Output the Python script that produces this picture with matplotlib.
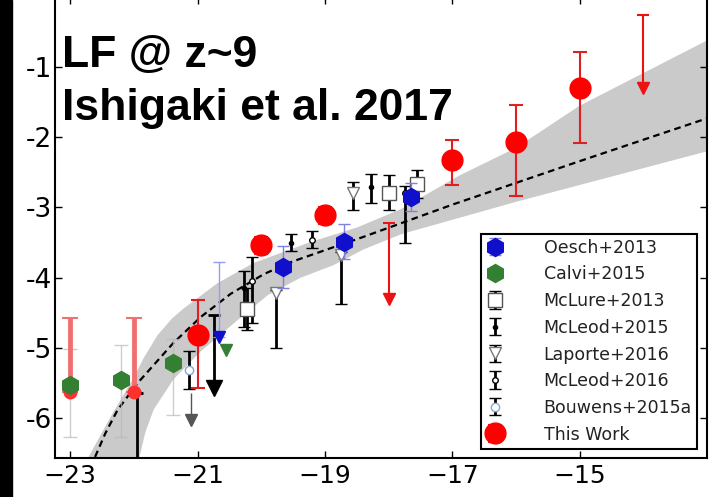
import matplotlib
matplotlib.use("Agg")
import matplotlib.pyplot as plt
from matplotlib.patches import Rectangle

OUT_FILE = "out.png"

# best-fit Schechter curve and its 1-sigma envelope (log phi vs M_UV)
FIT_M = [-22.68, -22.45, -22.26, -21.94, -21.38, -20.95, -20.48, -19.96, -19.54, -18.91, -18.43, -17.0, -15.0, -13.0]
FIT_LOGPHI = [-6.70, -6.22, -5.89, -5.50, -4.93, -4.56, -4.23, -3.95, -3.78, -3.58, -3.43, -2.96, -2.34, -1.73]
BAND_UP_M = [-22.80, -22.37, -22.0, -21.85, -21.63, -21.4, -21.22, -20.69, -20.12, -19.22, -18.48, -17.8, -16.9, -16.0, -15.0, -13.0]
BAND_UP_LOGPHI = [-6.70, -5.99, -5.42, -5.15, -4.82, -4.58, -4.44, -4.08, -3.79, -3.49, -3.28, -3.02, -2.55, -2.15, -1.55, -0.62]
BAND_LO_M = [-21.95, -21.82, -21.69, -21.38, -20.95, -20.43, -19.9, -19.38, -18.86, -18.4, -17.8, -16.0, -13.0]
BAND_LO_LOGPHI = [-6.70, -6.20, -5.88, -5.45, -5.05, -4.65, -4.25, -4.00, -3.82, -3.60, -3.38, -2.92, -2.20]

# this work
THIS_M = [-21.0, -20.0, -19.0, -17.0, -16.0, -15.0]
THIS_LOGPHI = [-4.82, -3.54, -3.11, -2.32, -2.07, -1.30]
THIS_ERR_LO = [0.75, 0.12, 0.12, 0.36, 0.77, 0.78]
THIS_ERR_HI = [0.50, 0.12, 0.12, 0.28, 0.53, 0.51]
THIS_LIM_M = [-18.0, -14.0]
THIS_LIM_TOP = [-3.22, -0.26]
THIS_LIM_TIP = [-4.30, -1.30]
THIS_BRIGHT_M = [-23.0, -22.0]
THIS_BRIGHT_LOGPHI = [-5.63, -5.63]
THIS_BRIGHT_ERR_HI = [1.05, 1.05]

# Oesch+2013
OESCH_M = [-19.66, -18.70, -17.65]
OESCH_LOGPHI = [-3.85, -3.49, -2.85]
OESCH_ERR = [0.30, 0.25, 0.20]
OESCH_LIM_M = [-20.67]
OESCH_LIM_LOGPHI = [-4.85]
OESCH_LIM_TOP = [-3.78]

# Calvi+2015
CALVI_M = [-23.0, -22.2, -21.38]
CALVI_LOGPHI = [-5.53, -5.46, -5.22]
CALVI_ERR_LO = [0.74, 0.81, 0.74]
CALVI_ERR_HI = [0.51, 0.50, 0.35]
CALVI_LIM_M = [-20.56]
CALVI_LIM_LOGPHI = [-5.03]

# McLure+2013
MCLURE_M = [-20.22, -18.0, -17.55]
MCLURE_LOGPHI = [-4.45, -2.79, -2.66]
MCLURE_ERR = [0.30, 0.25, 0.20]

# McLeod+2015
MCLEOD15_M = [-20.27, -19.54, -18.28]
MCLEOD15_LOGPHI = [-4.15, -3.50, -2.71]
MCLEOD15_ERR_LO = [0.55, 0.12, 0.22]
MCLEOD15_ERR_HI = [0.25, 0.12, 0.18]
MCLEOD15_LIM_M = [-21.95, -20.75]
MCLEOD15_LIM_TOP = [-5.65, -4.53]
MCLEOD15_LIM_TIP = [-6.90, -5.57]

# Laporte+2016
LAPORTE_M = [-19.77, -18.75, -18.56]
LAPORTE_LOGPHI = [-4.22, -3.68, -2.79]
LAPORTE_ERR_LO = [0.78, 0.70, 0.25]
LAPORTE_ERR_HI = [0.05, 0.05, 0.15]

# McLeod+2016
MCLEOD16_M = [-20.15, -19.2, -17.75]
MCLEOD16_LOGPHI = [-4.05, -3.46, -2.80]
MCLEOD16_ERR_LO = [0.60, 0.12, 0.70]
MCLEOD16_ERR_HI = [0.35, 0.12, 0.10]

# Bouwens+2015a
BOUWENS_M = [-21.14]
BOUWENS_LOGPHI = [-5.32]
BOUWENS_ERR = [0.27]
BOUWENS_LIM_M = [-21.1]
BOUWENS_LIM_TOP = [-5.64]
BOUWENS_LIM_TIP = [-6.03]

X_TICKS = [-23, -21, -19, -17, -15]
Y_TICKS = [-6, -5, -4, -3, -2, -1]
Y_TICK_LABELS = ["-6", "-5", "-4", "-3", "-2", "-1"]


def upper_limits(ax, m, top, tip, color, lw=1.5, ms=9, cap=True):
    ax.vlines(m, tip, top, color=color, lw=lw, zorder=3)
    ax.plot(m, tip, "v", color=color, ms=ms, mec=color, zorder=3)
    if cap:
        ax.plot(m, top, "_", color=color, ms=9, mew=lw, zorder=3)


def plot_lf():
    fig = plt.figure(figsize=(7.17, 4.97), dpi=100)
    ax = fig.add_axes([0.0767, 0.0785, 0.9093, 0.9276])

    # confidence band and best fit
    band_m = BAND_UP_M + BAND_LO_M[::-1]
    band_y = BAND_UP_LOGPHI + BAND_LO_LOGPHI[::-1]
    ax.fill(band_m, band_y, color="#cacaca", lw=0, zorder=1)
    ax.plot(FIT_M, FIT_LOGPHI, ls=(0, (3, 2)), color="black", lw=1.6, zorder=2)

    # Calvi+2015
    ax.errorbar(CALVI_M, CALVI_LOGPHI, yerr=[CALVI_ERR_LO, CALVI_ERR_HI], fmt="none",
                ecolor="#b8b8b8", elinewidth=1, capsize=5, alpha=0.7, zorder=3)
    ax.plot(CALVI_LIM_M, CALVI_LIM_LOGPHI, "v", color="#338033", ms=9, zorder=4)

    # bright end of this work
    ax.errorbar(THIS_BRIGHT_M, THIS_BRIGHT_LOGPHI, yerr=[[0, 0], THIS_BRIGHT_ERR_HI], fmt="o",
                color="#ff3030", ms=9, ecolor="#f07070", elinewidth=3.5, capsize=6, capthick=1.5,
                zorder=3)

    ax.errorbar(CALVI_M, CALVI_LOGPHI, fmt="h", color="#338033", ms=13, zorder=5,
                label="Calvi+2015")

    # Oesch+2013
    ax.errorbar(OESCH_LIM_M, OESCH_LIM_LOGPHI, yerr=[[0], [OESCH_LIM_TOP[0] - OESCH_LIM_LOGPHI[0]]],
                fmt="v", color="#1010cc", ms=9, ecolor="#9999ee", elinewidth=1, capsize=4, zorder=4)

    # McLeod+2015 upper limits
    upper_limits(ax, MCLEOD15_LIM_M, MCLEOD15_LIM_TOP, MCLEOD15_LIM_TIP, "black", lw=2, ms=11)
    upper_limits(ax, BOUWENS_LIM_M, BOUWENS_LIM_TOP, BOUWENS_LIM_TIP, "#555555", lw=1, ms=9,
                 cap=False)

    ax.errorbar(MCLURE_M, MCLURE_LOGPHI, yerr=MCLURE_ERR, fmt="s", mfc="white", mec="#555555",
                ms=10, ecolor="black", elinewidth=2, capsize=4, zorder=4, label="McLure+2013")
    ax.errorbar(MCLEOD15_M, MCLEOD15_LOGPHI, yerr=[MCLEOD15_ERR_LO, MCLEOD15_ERR_HI], fmt="o",
                color="black", ms=3, ecolor="black", elinewidth=2, capsize=4, zorder=4,
                label="McLeod+2015")
    ax.errorbar(LAPORTE_M, LAPORTE_LOGPHI, yerr=[LAPORTE_ERR_LO, LAPORTE_ERR_HI], fmt="v",
                mfc="white", mec="#777777", ms=8, ecolor="black", elinewidth=2, capsize=4,
                zorder=4, label="Laporte+2016")
    ax.errorbar(MCLEOD16_M, MCLEOD16_LOGPHI, yerr=[MCLEOD16_ERR_LO, MCLEOD16_ERR_HI], fmt="o",
                mfc="white", mec="black", ms=4, ecolor="black", elinewidth=2, capsize=4,
                zorder=4, label="McLeod+2016")
    ax.errorbar(BOUWENS_M, BOUWENS_LOGPHI, yerr=BOUWENS_ERR, fmt="o", mfc="white",
                mec="#88aacc", ms=6, ecolor="black", elinewidth=2, capsize=4, zorder=4,
                label="Bouwens+2015a")

    ax.errorbar(OESCH_M, OESCH_LOGPHI, yerr=OESCH_ERR, fmt="h", color="#1010cc", ms=13,
                ecolor="#8080dd", elinewidth=1, capsize=4, zorder=5, label="Oesch+2013")

    # this work
    upper_limits(ax, THIS_LIM_M, THIS_LIM_TOP, THIS_LIM_TIP, "#ee1111", lw=1.5, ms=9)
    ax.errorbar(THIS_M, THIS_LOGPHI, yerr=[THIS_ERR_LO, THIS_ERR_HI], fmt="o", color="#ff0000",
                ms=15, ecolor="#e02020", elinewidth=1.5, capsize=5, capthick=1.5, zorder=6,
                label="This Work")

    ax.set_xlim(-23.24, -13.0)
    ax.set_ylim(-6.57, 0.0)
    ax.set_xticks(X_TICKS)
    ax.set_yticks(Y_TICKS)
    ax.set_yticklabels(Y_TICK_LABELS)
    ax.tick_params(direction="in", top=True, right=True, length=5, width=1, labelsize=18,
                   pad=4)
    ax.tick_params(axis="y", pad=2, labelsize=19)
    for spine in ax.spines.values():
        spine.set_linewidth(1.5)

    handles, labels = ax.get_legend_handles_labels()
    order = ["Oesch+2013", "Calvi+2015", "McLure+2013", "McLeod+2015", "Laporte+2016",
             "McLeod+2016", "Bouwens+2015a", "This Work"]
    lookup = dict(zip(labels, handles))
    leg = ax.legend([lookup[k] for k in order], order, loc="lower right",
                    bbox_to_anchor=(0.985, 0.02), numpoints=1, fontsize=12.5, fancybox=False,
                    framealpha=1, edgecolor="black", borderpad=0.3, handlelength=1.0,
                    handletextpad=2.3, labelspacing=0.5, borderaxespad=0)
    leg.get_frame().set_linewidth(1.5)
    for text in leg.get_texts():
        text.set_color("#222222")

    fig.text(62 / 717, 1 - 67 / 497, "LF @ z~9", fontsize=32, fontweight="bold",
             family="Liberation Sans", va="baseline")
    fig.text(62 / 717, 1 - 120 / 497, "Ishigaki et al. 2017", fontsize=32, fontweight="bold",
             family="Liberation Sans", va="baseline")

    # dark strip on the left edge
    fig.patches.append(Rectangle((0, 0), 12 / 717, 1, transform=fig.transFigure,
                                 color="black", zorder=10))

    fig.savefig(OUT_FILE, dpi=100)


if __name__ == "__main__":
    plot_lf()
